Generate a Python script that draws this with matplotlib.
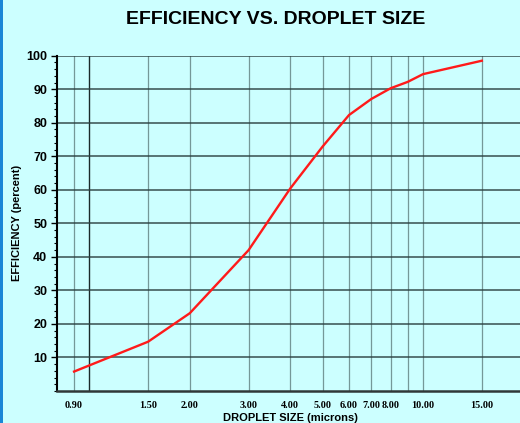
import matplotlib
matplotlib.use("Agg")
import matplotlib.pyplot as plt
from matplotlib.ticker import FixedLocator, NullFormatter, MultipleLocator
from matplotlib.patches import Rectangle

droplet_size = [0.9, 1.5, 2.0, 3.0, 4.0, 5.0, 6.0, 7.0, 8.0, 9.0, 10.0, 15.0]
efficiency = [5.8, 14.7, 23.2, 42.0, 60.4, 72.9, 82.3, 87.1, 90.3, 92.2, 94.5, 98.5]

grid_x = [0.9, 1.0, 1.5, 2.0, 3.0, 4.0, 5.0, 6.0, 7.0, 8.0, 9.0, 10.0, 15.0]
x_tick_vals = [0.9, 1.5, 2.0, 3.0, 4.0, 5.0, 6.0, 7.0, 8.0, 10.0, 15.0]
x_tick_labels = ["0.90", "1.50", "2.00", "3.00", "4.00", "5.00", "6.00", "7.00", "8.00", "10.00", "15.00"]
y_ticks = [10, 20, 30, 40, 50, 60, 70, 80, 90, 100]

bg = "#ccffff"
fig = plt.figure(figsize=(5.2, 4.23), dpi=100, facecolor=bg)
fig.patches.append(Rectangle((0, 0), 3 / 520, 1, transform=fig.transFigure,
                             facecolor="#1a86d6", edgecolor="none"))

ax = fig.add_axes([57 / 520, 32 / 423, 466.5 / 520, 335.3 / 423])
ax.set_facecolor(bg)
ax.set_xscale("log")
ax.set_xlim(0.8, 20)
ax.set_ylim(0, 100)

for gx in grid_x:
    if gx == 1.0:
        ax.axvline(gx, color="#1a2a2a", lw=1.0, zorder=1)
    else:
        ax.axvline(gx, color="#5f7f7f", lw=0.9, alpha=0.8, zorder=1)
for gy in y_ticks:
    ax.axhline(gy, color="#2a4040", lw=1.2, alpha=0.85, zorder=1)

ax.plot(droplet_size, efficiency, color="#ff1a1a", lw=1.7, zorder=3)

ax.xaxis.set_major_locator(FixedLocator(x_tick_vals))
ax.xaxis.set_minor_locator(FixedLocator([]))
ax.xaxis.set_minor_formatter(NullFormatter())
ax.set_xticklabels(x_tick_labels, fontfamily="Liberation Serif", fontweight="bold", fontsize=7.3)
ax.tick_params(axis="x", length=0, pad=7)

ax.yaxis.set_major_locator(FixedLocator(y_ticks))
ax.yaxis.set_minor_locator(MultipleLocator(2))
ax.set_yticklabels([str(v) for v in y_ticks], fontfamily="Liberation Sans", fontweight="bold", fontsize=9)
ax.tick_params(axis="y", which="major", length=4, width=1, pad=3)
ax.tick_params(axis="y", which="minor", length=2, width=0.8)

for s in ["top", "right"]:
    ax.spines[s].set_visible(False)
ax.spines["left"].set_linewidth(1.5)
ax.spines["bottom"].set_linewidth(1.8)
ax.spines["bottom"].set_color("#303838")

fig.text(276 / 520, 1 - 20 / 423, "EFFICIENCY VS. DROPLET SIZE", ha="center", va="center",
         fontfamily="Liberation Sans", fontweight="bold", fontsize=14)
fig.text(290 / 520, 1 - 418 / 423, "DROPLET SIZE (microns)", ha="center", va="center",
         fontfamily="Liberation Sans", fontweight="bold", fontsize=8)
fig.text(17 / 520, 1 - 223 / 423, "EFFICIENCY (percent)", ha="center", va="center", rotation=90,
         fontfamily="Liberation Sans", fontweight="bold", fontsize=8)

fig.savefig("out.png", dpi=100, facecolor=bg)
